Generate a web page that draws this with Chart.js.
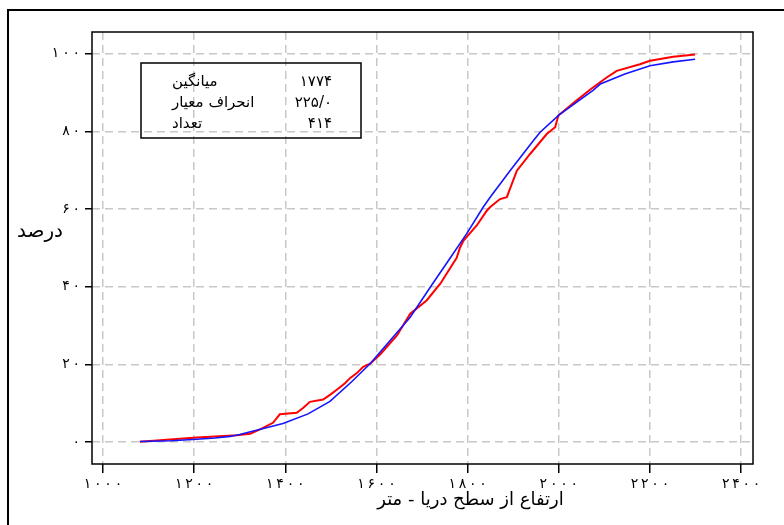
<!DOCTYPE html>
<html lang="fa">
<head>
  <meta charset="UTF-8" />
  <title>توزیع تجمعی ارتفاع</title>
  <script src="https://cdn.jsdelivr.net/npm/chart.js"></script>
  <style>
    body {
      margin: 0;
      padding: 0;
      background: #ffffff;
      overflow: hidden;
    }

    .wrap {
      position: relative;
      width: 784px;
      height: 525px;
      overflow: hidden;
    }

    .frame {
      position: absolute;
      left: 7px;
      top: 9px;
      width: 820px;
      height: 600px;
      border: 2px solid #000;
    }

    canvas {
      position: absolute;
      left: 0;
      top: 0;
    }
  </style>
</head>
<body>
  <div class="wrap">
    <div class="frame"></div>
    <canvas id="cdfChart" width="784" height="525"></canvas>
  </div>

  <script>
    // tick values
    const xTicks = [1000, 1200, 1400, 1600, 1800, 2000, 2200, 2400];
    const yTicks = [0, 20, 40, 60, 80, 100];

    // fitted curve (blue)
    const blueX = [1081, 1150, 1197, 1246, 1279, 1300, 1395, 1450, 1498, 1545, 1586, 1630, 1674, 1718, 1761, 1798, 1834, 1849, 1893, 1944, 1959, 2000, 2075, 2091, 2145, 2200, 2251, 2299];
    const blueY = [0.2, 0.4, 0.7, 1.1, 1.5, 2.0, 4.8, 7.3, 10.5, 15.5, 20.2, 26.2, 32.2, 39.9, 47.3, 53.7, 60.5, 63.0, 69.9, 77.6, 79.8, 84.2, 90.6, 92.2, 94.8, 96.9, 97.9, 98.6];

    // observed cumulative percent (red)
    const redX = [1081, 1147, 1206, 1246, 1294, 1323, 1348, 1373, 1388, 1425, 1439, 1454, 1483, 1498, 1513, 1531, 1542, 1557, 1571, 1586, 1608, 1645, 1674, 1710, 1740, 1776, 1783, 1791, 1820, 1842, 1849, 1871, 1886, 1908, 1937, 1974, 1992, 1999, 2032, 2069, 2105, 2127, 2178, 2200, 2251, 2299];
    const redY = [0.1, 0.7, 1.2, 1.5, 1.8, 2.2, 3.5, 5.0, 7.2, 7.6, 8.8, 10.4, 11.0, 12.2, 13.5, 15.2, 16.5, 17.8, 19.4, 20.2, 22.6, 27.5, 33.1, 36.5, 40.8, 47.5, 50.0, 51.9, 55.8, 59.6, 60.5, 62.6, 63.1, 69.9, 74.2, 79.4, 81.1, 84.1, 87.3, 90.8, 93.9, 95.6, 97.3, 98.2, 99.2, 99.8];

    const statLabels = ['میانگین', 'انحراف معیار', 'تعداد'];
    const statValues = ['۱۷۷۴', '۲۲۵/۰', '۴۱۴'];
    const yTitle = 'درصد';
    const xTitle = 'ارتفاع از سطح دریا - متر';

    const faFont = '"DejaVu Sans", sans-serif';

    // persian digits, a thin space between them to widen the numbers a bit
    function fa(n) {
      return String(n).replace(/\d/g, d => '۰۱۲۳۴۵۶۷۸۹'[d]).split('').join('\u2009');
    }

    function toPoints(xs, ys) {
      return xs.map((x, i) => ({ x: x, y: ys[i] }));
    }

    const framePlugin = {
      id: 'framePlugin',
      afterDraw(chart) {
        const ctx = chart.ctx;
        const a = chart.chartArea;
        ctx.save();

        // plot box
        ctx.strokeStyle = '#000';
        ctx.lineWidth = 1.5;
        ctx.strokeRect(a.left, a.top, a.right - a.left, a.bottom - a.top);

        // stats box
        const bx = a.left + 49, by = a.top + 31;
        ctx.strokeRect(bx, by, 220, 75);
        ctx.fillStyle = '#000';
        ctx.font = '15px ' + faFont;
        statLabels.forEach((label, i) => {
          const y = by + 23 + i * 21;
          ctx.textAlign = 'left';
          ctx.fillText(label, bx + 31, y);
          ctx.textAlign = 'right';
          ctx.fillText(statValues[i], bx + 191, y);
        });

        // axis titles
        ctx.textAlign = 'center';
        ctx.textBaseline = 'middle';
        ctx.font = '20px ' + faFont;
        ctx.fillText(yTitle, 40, 232);
        ctx.font = '18px ' + faFont;
        ctx.fillText(xTitle, (a.left + a.right) / 2 + 48, 500);
        ctx.restore();
      }
    };

    const gridStyle = {
      color: '#c8c8c8',
      lineWidth: 1.5,
      tickColor: '#000',
      tickWidth: 1.5,
      tickBorderDash: []
    };

    new Chart(document.getElementById('cdfChart').getContext('2d'), {
      type: 'line',
      data: {
        datasets: [
          { label: 'normal', data: toPoints(blueX, blueY), borderColor: 'rgb(20,20,255)', borderWidth: 1.6, pointRadius: 0, tension: 0, fill: false },
          { label: 'observed', data: toPoints(redX, redY), borderColor: 'rgb(255,0,0)', borderWidth: 2, pointRadius: 0, tension: 0, fill: false }
        ]
      },
      options: {
        responsive: false,
        animation: false,
        layout: { padding: { top: 32, right: 31, left: 0, bottom: 0 } },
        plugins: { legend: { display: false }, tooltip: { enabled: false } },
        scales: {
          x: {
            type: 'linear',
            min: 976,
            max: 2426,
            afterBuildTicks: axis => { axis.ticks = xTicks.map(v => ({ value: v })); },
            afterFit: axis => { axis.height = 61; },
            grid: Object.assign({ tickLength: 9 }, gridStyle),
            border: { display: false, dash: [8, 5] },
            ticks: { color: '#000', padding: 3, maxRotation: 0, autoSkip: false, font: { family: faFont, size: 14 }, callback: v => fa(v) }
          },
          y: {
            min: -5.6,
            max: 105.6,
            afterBuildTicks: axis => { axis.ticks = yTicks.map(v => ({ value: v })); },
            afterFit: axis => { axis.width = 92; },
            grid: Object.assign({ tickLength: 7 }, gridStyle),
            border: { display: false, dash: [8, 5] },
            ticks: { color: '#000', padding: 5, font: { family: faFont, size: 14 }, callback: v => fa(v) }
          }
        }
      },
      plugins: [framePlugin]
    });
  </script>
</body>
</html>
